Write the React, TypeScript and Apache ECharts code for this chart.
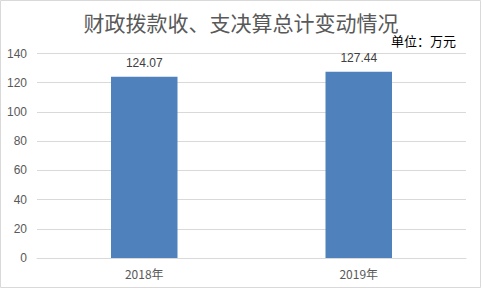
import React, { useEffect, useRef } from "react";
import * as echarts from "echarts";

const categories = ["2018年", "2019年"];
const values = [124.07, 127.44];
const yMin = 0;
const yMax = 140;
const yInterval = 20;
const titleText = "财政拨款收、支决算总计变动情况";
const unitText = "单位：万元";

export default function App() {
  const ref = useRef<HTMLDivElement>(null);
  useEffect(() => {
    const chart = echarts.init(ref.current!, null, { renderer: "svg" });
    chart.setOption({
      animation: false,
      backgroundColor: "#ffffff",
      title: {
        text: titleText,
        left: "center",
        top: 6,
        textStyle: {
          fontSize: 21,
          fontWeight: "normal",
          color: "#595959",
          fontFamily: "Noto Sans CJK SC",
        },
      },
      graphic: [
        {
          type: "rect",
          shape: { x: 0.5, y: 0.5, width: 480, height: 287 },
          style: { fill: "none", stroke: "#d9d9d9", lineWidth: 1 },
          silent: true,
        },
        {
          type: "text",
          right: 26,
          top: 34,
          style: {
            text: unitText,
            fontSize: 13,
            fill: "#000000",
            fontFamily: "Noto Sans CJK SC",
          },
        },
      ],
      grid: { left: 37, right: 16, top: 53.5, bottom: 32, containLabel: false },
      xAxis: {
        type: "category",
        data: categories,
        axisLine: { lineStyle: { color: "#d9d9d9" } },
        axisTick: { show: false },
        axisLabel: {
          color: "#595959",
          fontSize: 12,
          margin: 9,
          fontFamily: "Noto Sans CJK SC",
        },
      },
      yAxis: {
        type: "value",
        min: yMin,
        max: yMax,
        interval: yInterval,
        axisLine: { show: false },
        axisTick: { show: false },
        splitLine: { lineStyle: { color: "#d9d9d9" } },
        axisLabel: {
          color: "#595959",
          fontSize: 12,
          margin: 10,
          fontFamily: "Liberation Sans",
        },
      },
      series: [
        {
          type: "bar",
          data: values,
          barWidth: "31%",
          itemStyle: { color: "#4f81bd" },
          label: {
            show: true,
            position: "top",
            distance: 8,
            color: "#404040",
            fontSize: 12,
            fontFamily: "Liberation Sans",
          },
        },
      ],
    });
    return () => chart.dispose();
  }, []);
  return (
    <div
      ref={ref}
      style={{ position: "fixed", left: 0, top: 0, width: 482, height: 290 }}
    />
  );
}
